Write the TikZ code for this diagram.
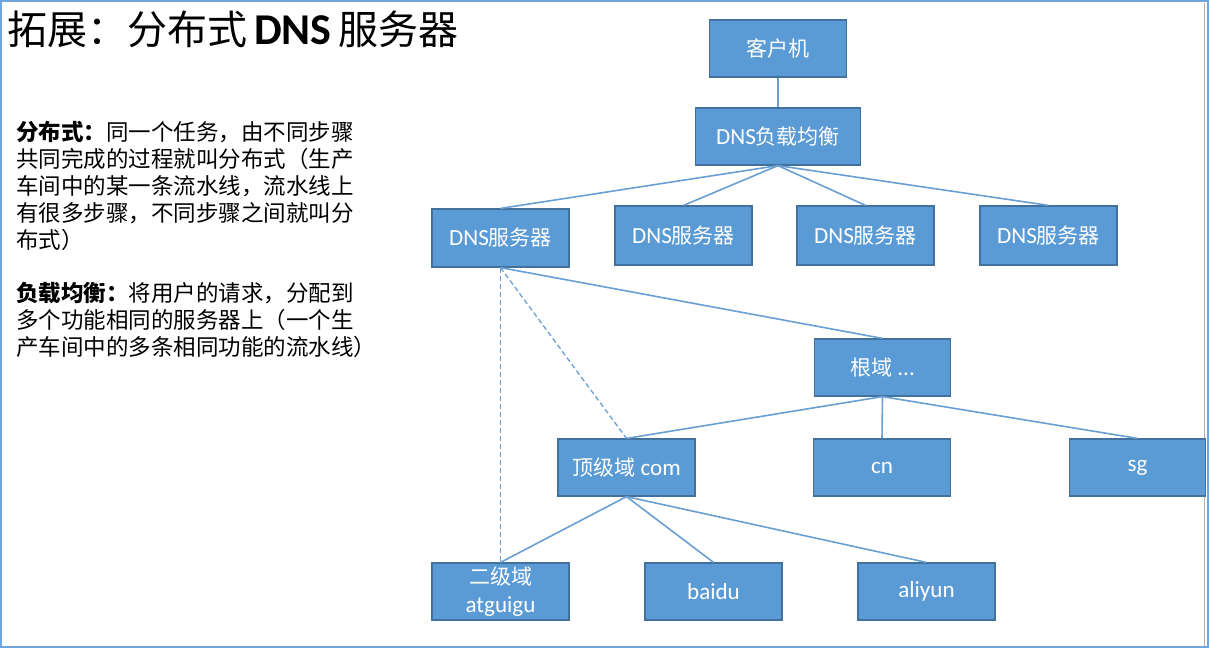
\documentclass[tikz,border=0pt]{standalone}
\usepackage{fontspec}
\setmainfont[Scale=1.1]{Carlito}
\newfontfamily\cjk{Noto Sans CJK SC}
\definecolor{boxfill}{HTML}{5B9BD5}
\definecolor{boxedge}{HTML}{41719C}
\definecolor{linkc}{HTML}{6A9FD4}
\definecolor{framec}{HTML}{6FA5DC}
\tikzset{
  nodebox/.style={draw=boxedge, line width=1.2pt, fill=boxfill, text=white,
    minimum width=137pt, minimum height=57pt, inner sep=0pt, align=center,
    font=\fontsize{21}{28}\selectfont},
  link/.style={draw=linkc, line width=1.6pt},
  dlink/.style={draw=linkc, line width=1.3pt, dash pattern=on 5pt off 3pt},
  bodyline/.style={anchor=base west, inner sep=0pt, font=\cjk\fontsize{22.5}{27}\selectfont}
}
\begin{document}
\begin{tikzpicture}[x=1pt,y=-1pt]
\useasboundingbox (0,0) rectangle (1209,648);
\fill[white] (0,0) rectangle (1209,648);
\draw[framec, line width=2.2pt] (1.1,1.1) rectangle (1207.9,646.9);
\draw[gray!60, line width=0.8pt] (1204.5,2.5) -- (1204.5,645.5);

% title
\node[anchor=base west, inner sep=0pt, font=\fontsize{40}{48}\selectfont] (title) at (7,44)
  {{\cjk 拓展：分布式}\hspace{7pt}{\bfseries DNS}\hspace{7pt}{\cjk 服务器}};

% body text
\node[bodyline] (p1) at (16,140) {{\bfseries 分布式：}同一个任务，由不同步骤};
\node[bodyline] (p2) at (16,167) {共同完成的过程就叫分布式（生产};
\node[bodyline] (p3) at (16,194) {车间中的某一条流水线，流水线上};
\node[bodyline] (p4) at (16,221) {有很多步骤，不同步骤之间就叫分};
\node[bodyline] (p5) at (16,248) {布式）};
\node[bodyline] (q1) at (16,301) {{\bfseries 负载均衡：}将用户的请求，分配到};
\node[bodyline] (q2) at (16,328) {多个功能相同的服务器上（一个生};
\node[bodyline] (q3) at (16,355) {产车间中的多条相同功能的流水线）};

% boxes
\node[nodebox] (client) at (778,48.5) {\cjk 客户机};
\node[nodebox, minimum width=165pt] (lb) at (778,136.5) {DNS{\cjk 负载均衡}};
\node[nodebox, minimum height=58pt] (d1) at (500.5,238) {DNS{\cjk 服务器}};
\node[nodebox, minimum height=59pt] (d2) at (683.5,235.5) {DNS{\cjk 服务器}};
\node[nodebox, minimum height=59pt] (d3) at (865.5,235.5) {DNS{\cjk 服务器}};
\node[nodebox, minimum height=59pt] (d4) at (1048.5,235.5) {DNS{\cjk 服务器}};
\node[nodebox, minimum width=136pt] (root) at (882.5,367.5) {{\cjk 根域} ...};
\node[nodebox] (com) at (626.5,467.5) {{\cjk 顶级域} com};
\node[nodebox] (cn) at (882,467.5) {cn};
\node[nodebox, minimum width=136pt] (sg) at (1137.5,467.5) {sg};
\node[nodebox] (sld) at (500.5,591.5) {{\cjk 二级域}\\[0pt]atguigu};
\node[nodebox] (baidu) at (713.5,591.5) {baidu};
\node[nodebox] (aliyun) at (926.5,591.5) {aliyun};

% connectors
\draw[link] (client.south) -- (lb.north);
\draw[link] (lb.south) -- (d1.north);
\draw[link] (lb.south) -- (d2.north);
\draw[link] (lb.south) -- (d3.north);
\draw[link] (lb.south) -- (d4.north);
\draw[link] (d1.south) -- (root.north);
\draw[dlink] (d1.south) -- (com.north);
\draw[dlink] (d1.south) -- (sld.north);
\draw[link] (root.south) -- (com.north);
\draw[link] (root.south) -- (cn.north);
\draw[link] (root.south) -- (sg.north);
\draw[link] (com.south) -- (sld.north);
\draw[link] (com.south) -- (baidu.north);
\draw[link] (com.south) -- (aliyun.north);
\end{tikzpicture}
\end{document}
